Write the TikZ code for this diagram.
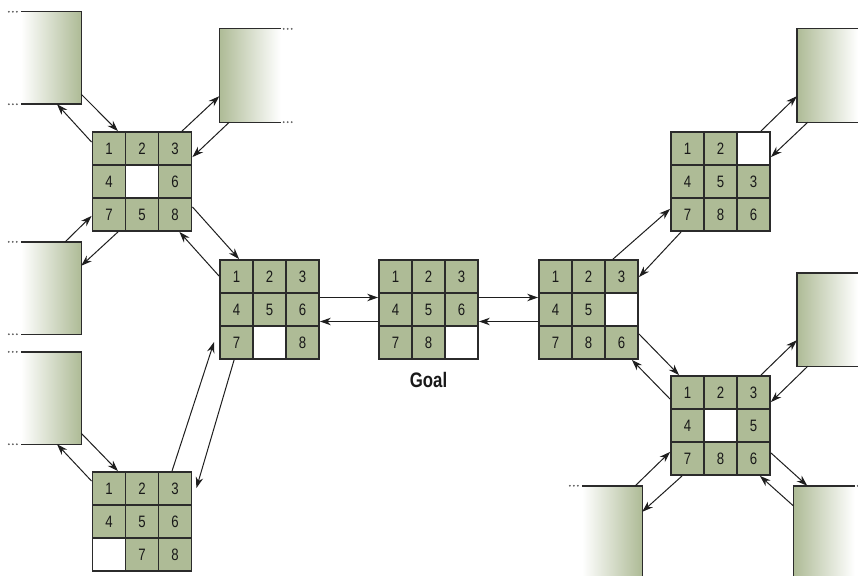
\documentclass[tikz,border=0pt]{standalone}
\usepackage{fontspec}
\newfontfamily\pzfont[FakeStretch=0.8]{Liberation Sans}
\usetikzlibrary{calc,positioning,arrows.meta}

\definecolor{pzGreen}{HTML}{AEBB96}
\definecolor{pzLine}{HTML}{2B2B2B}
\definecolor{pzArrow}{HTML}{1E1E1E}
\definecolor{pzDots}{HTML}{5A5A5A}

\tikzset{
  cell/.style={draw=pzLine,line width=1.6pt,minimum size=33pt,inner sep=0pt,
    font=\pzfont\fontsize{16.5}{17}\selectfont,text=black!90},
  board/.style={draw=pzLine,line width=1.8pt,minimum size=99pt,inner sep=0pt},
  fadeL/.style={left color=white,right color=pzGreen,inner sep=0pt,minimum width=60pt},
  fadeR/.style={left color=pzGreen,right color=white,inner sep=0pt,minimum width=61pt},
  boxline/.style={draw=pzLine,line width=1.4pt},
  move/.style={draw=pzArrow,line width=1pt,-{Stealth[length=11pt,width=7.5pt]}},
  goal/.style={font=\pzfont\bfseries\fontsize{21}{22}\selectfont,inner sep=0pt,text=black!90}
}

% board: name, x, y, tiles (0 = blank)
\newcommand{\pzboard}[4]{%
  \foreach \lab [count=\i from 0] in {#4}{%
    \pgfmathtruncatemacro{\cc}{mod(\i,3)}%
    \pgfmathtruncatemacro{\rr}{div(\i,3)}%
    \ifnum\lab=0
      \node[cell,fill=white] (#1-\i) at (#2+\cc*33-33,#3+\rr*33-33) {};
    \else
      \node[cell,fill=pzGreen] (#1-\i) at (#2+\cc*33-33,#3+\rr*33-33) {\lab};
    \fi
  }
  \node[board] (#1) at (#2,#3) {};
}

% faded box, open to the left: name, x, y, height
\newcommand{\leafL}[4]{%
  \node[fadeL,minimum height=#4pt] (#1) at (#2,#3) {};
  \draw[boxline] (#1.north west) -- (#1.north east) -- (#1.south east) -- (#1.south west);
  \foreach \d in {4,8,12}{%
    \fill[pzDots] ($(#1.north west)+(-\d,0)$) circle (1pt);
    \fill[pzDots] ($(#1.south west)+(-\d,0)$) circle (1pt);
  }
}

% faded box, open to the right: name, x, y, height
\newcommand{\leafR}[4]{%
  \node[fadeR,minimum height=#4pt] (#1) at (#2,#3) {};
  \draw[boxline] (#1.north east) -- (#1.north west) -- (#1.south west) -- (#1.south east);
  \foreach \d in {3,7,11}{%
    \fill[pzDots] ($(#1.north east)+(\d,0)$) circle (1pt);
    \fill[pzDots] ($(#1.south east)+(\d,0)$) circle (1pt);
  }
}

\begin{document}
\begin{tikzpicture}[x=1pt,y=-1pt]
  \useasboundingbox (0,0) rectangle (858,575);

  % ---- faded boxes (unexplored states) ----
  \leafL{L1}{51}{58}{92}
  \leafR{L2}{250}{75.5}{93}
  \leafL{L3}{51}{288}{92}
  \leafL{L4}{51}{398}{92}
  \leafR{R1}{827.5}{75.5}{93}
  \leafR{R2}{827.5}{319.5}{93}
  \leafL{R3}{612}{538}{104}
  \leafR{R4}{824}{538}{104}

  % ---- boards ----
  \pzboard{A}{142}{181.5}{1,2,3,4,0,6,7,5,8}
  \pzboard{B}{269.5}{309.5}{1,2,3,4,5,6,7,0,8}
  \pzboard{C}{428.5}{309.5}{1,2,3,4,5,6,7,8,0}
  \pzboard{D}{588.5}{309.5}{1,2,3,4,5,0,7,8,6}
  \pzboard{E}{720.5}{181.5}{1,2,0,4,5,3,7,8,6}
  \pzboard{F}{142}{521.5}{1,2,3,4,5,6,0,7,8}
  \pzboard{G}{720.5}{425.5}{1,2,3,4,0,5,7,8,6}

  \node[goal,below=12pt of C] (goal) {Goal};

  % ---- moves around A ----
  \draw[move] ($(L1.south east)+(0,-10)$) -- ($(A.north)+(-24,0)$);
  \draw[move] ($(A.north west)+(0,11)$)   -- ($(L1.south)+(6,0)$);
  \draw[move] ($(A.north)+(40,0)$)        -- ($(L2.south west)+(0,-26)$);
  \draw[move] ($(L2.south west)+(10,0)$)  -- ($(A.north east)+(0,26)$);
  \draw[move] ($(L3.north east)+(-16,0)$) -- ($(A.south west)+(0,-16)$);
  \draw[move] ($(A.south)+(-24,0)$)       -- ($(L3.north east)+(0,24)$);
  \draw[move] ($(A.south east)+(0,-25)$)  -- ($(B.north west)+(20,0)$);
  \draw[move] ($(B.north west)+(0,17)$)   -- ($(A.south east)+(-13,0)$);

  % ---- moves around B and F ----
  \draw[move] ($(B.east)+(0,-12)$)        -- ($(C.west)+(0,-12)$);
  \draw[move] ($(C.west)+(0,12)$)         -- ($(B.east)+(0,12)$);
  \draw[move] ($(F.north)+(30,0)$)        -- ($(B.south west)+(-5,-18)$);
  \draw[move] ($(B.south west)+(15,0)$)   -- ($(F.north east)+(4,17)$);
  \draw[move] ($(L4.south east)+(0,-11)$) -- ($(F.north)+(-24,0)$);
  \draw[move] ($(F.north west)+(0,10)$)   -- ($(L4.south)+(6,0)$);

  % ---- moves around C and D ----
  \draw[move] ($(C.east)+(0,-12)$)        -- ($(D.west)+(0,-12)$);
  \draw[move] ($(D.west)+(0,12)$)         -- ($(C.east)+(0,12)$);
  \draw[move] ($(D.north)+(24.5,0)$)      -- ($(E.south west)+(0,-23)$);
  \draw[move] ($(E.south west)+(11,0)$)   -- ($(D.north east)+(0,18)$);
  \draw[move] ($(D.south east)+(0,-26)$)  -- ($(G.north west)+(9,0)$);
  \draw[move] ($(G.north west)+(0,24)$)   -- ($(D.south east)+(-7,0)$);

  % ---- moves around E and G ----
  \draw[move] ($(E.north east)+(-10,0)$)  -- ($(R1.south west)+(0,-26)$);
  \draw[move] ($(R1.south west)+(11,0)$)  -- ($(E.north east)+(0,26)$);
  \draw[move] ($(G.north east)+(-10,0)$)  -- ($(R2.south west)+(0,-26)$);
  \draw[move] ($(R2.south west)+(11,0)$)  -- ($(G.north east)+(0,27)$);
  \draw[move] ($(R3.north east)+(-7,0)$)  -- ($(G.south west)+(0,-24)$);
  \draw[move] ($(G.south west)+(12,0)$)   -- ($(R3.north east)+(0,26)$);
  \draw[move] ($(G.south east)+(0,-23)$)  -- ($(R4.north west)+(14,0)$);
  \draw[move] ($(R4.north west)+(0,20)$)  -- ($(G.south east)+(-11,0)$);
\end{tikzpicture}
\end{document}
